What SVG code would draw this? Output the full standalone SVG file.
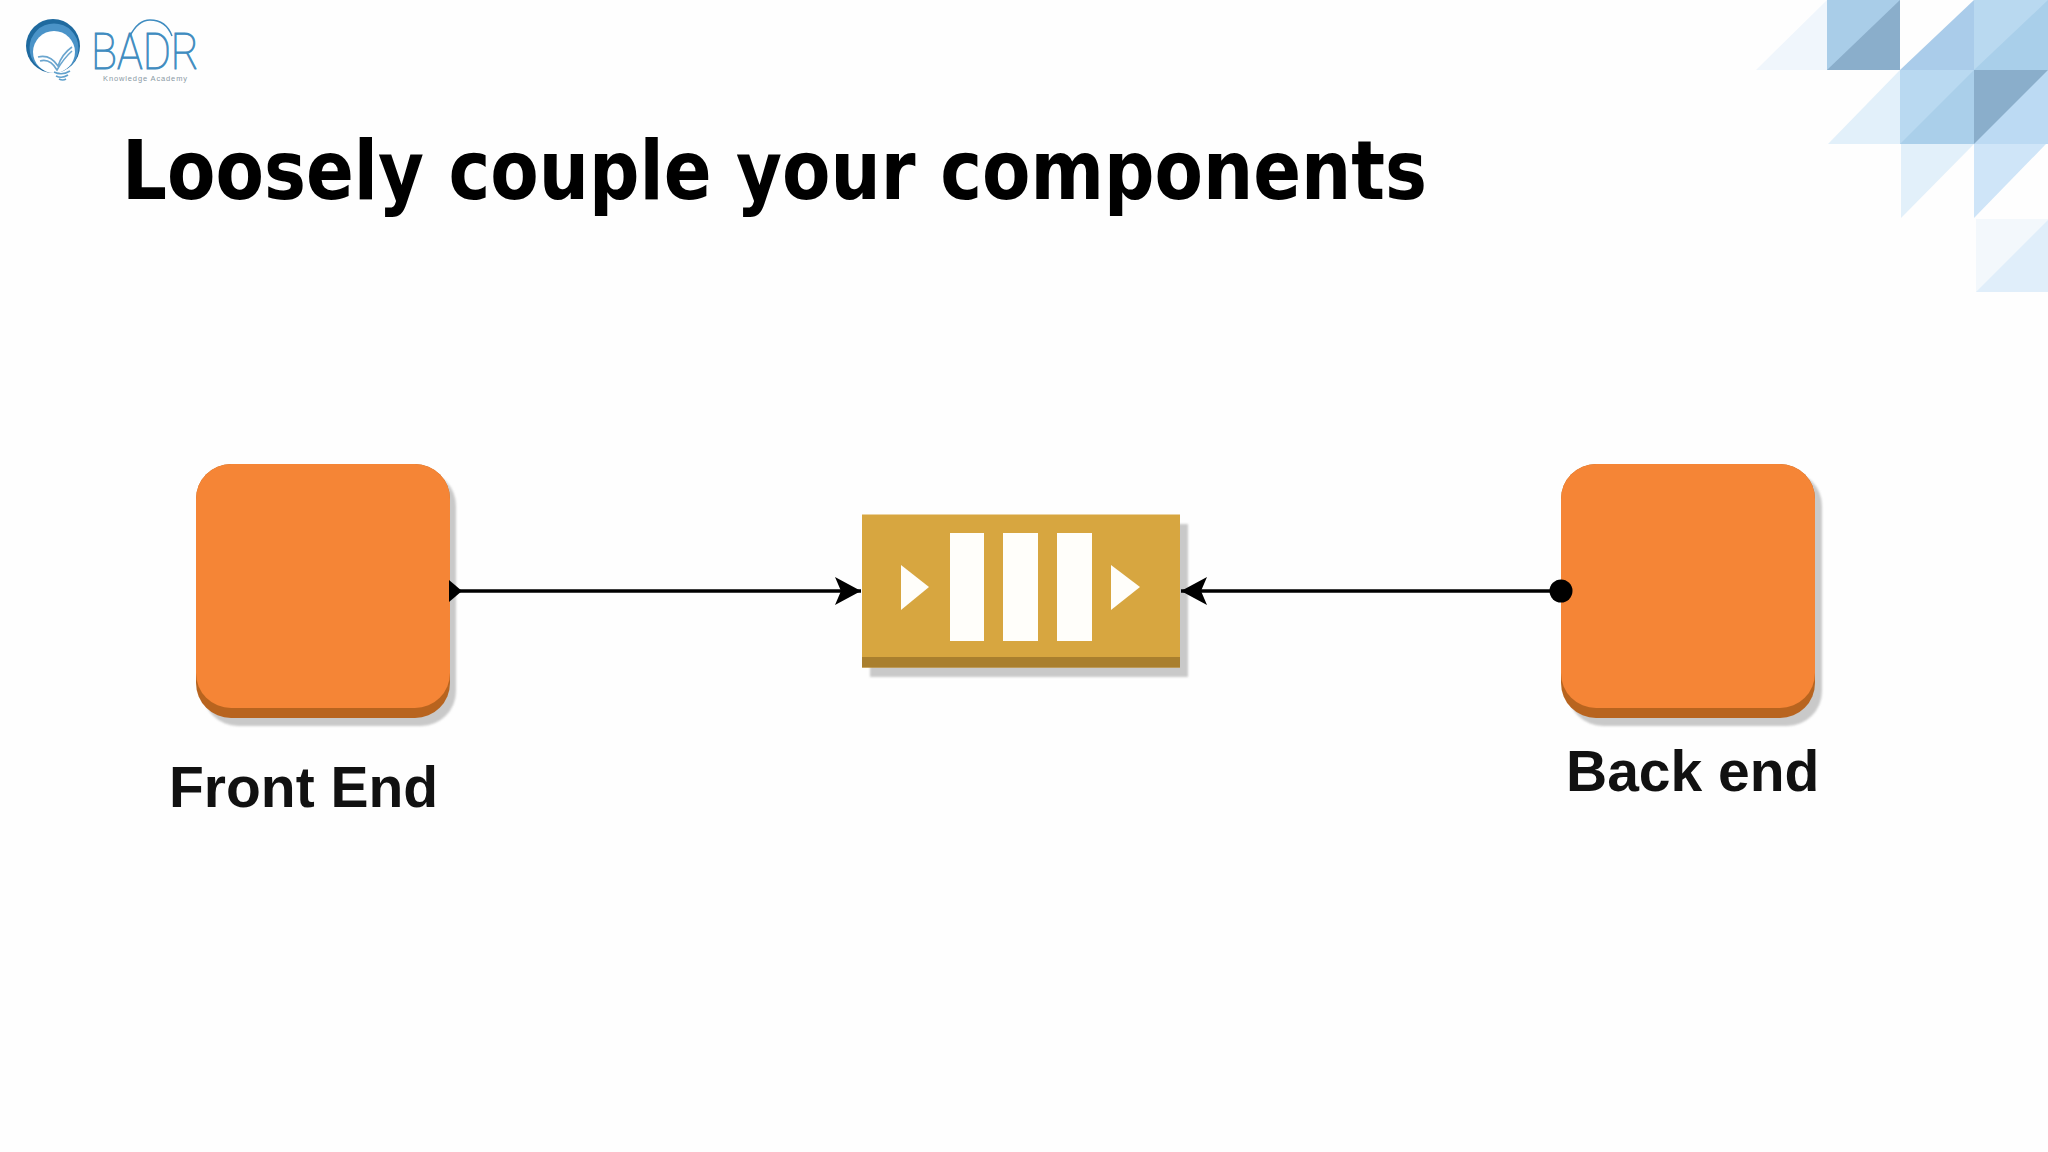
<svg xmlns="http://www.w3.org/2000/svg" width="2048" height="1152" viewBox="0 0 2048 1152">
<style>
.lbl{font-family:"Liberation Sans",Arial,sans-serif;font-weight:700;font-size:57px;fill:#111}
.title{font-family:"DejaVu Sans",Verdana,sans-serif;font-weight:700;font-size:82px;fill:#000}
.conn{stroke:#000;stroke-width:3.5;fill:none}
.white{fill:#fffefa}
.orange{fill:#f58536}
.orangeD{fill:#b8641f}
.shadow{fill:#c9c9c9;filter:url(#soft)}
</style>
<defs>
<filter id="soft" x="-5%" y="-5%" width="110%" height="110%"><feGaussianBlur stdDeviation="1.2"/></filter>
<marker id="arrow" viewBox="0 0 26 28" refX="26" refY="14" markerWidth="26" markerHeight="28" markerUnits="userSpaceOnUse" orient="auto"><path d="M0 0 L26 14 L0 28 L6 14 Z" fill="#000"/></marker>
</defs>
<rect width="2048" height="1152" fill="#fefefe"/>
<g id="corner-decoration">
<polygon points="1756,70 1827,0 1827,70" fill="#f0f6fc"/>
<rect x="1827" y="0" width="73" height="70" fill="#a9cde8"/>
<polygon points="1827,70 1900,0 1900,70" fill="#8aaecb"/>
<polygon points="1900,70 1974,0 1974,70" fill="#aaccea"/>
<rect x="1974" y="0" width="74" height="70" fill="#b9d9f0"/>
<polygon points="1974,70 2048,0 2048,70" fill="#a9cfea"/>
<polygon points="1828,144 1900,70 1900,144" fill="#e2f0fa"/>
<rect x="1900" y="70" width="74" height="74" fill="#b9d9f1"/>
<polygon points="1900,144 1974,70 1974,144" fill="#aacfea"/>
<rect x="1974" y="70" width="74" height="74" fill="#bcdaf3"/>
<polygon points="1974,144 1974,70 2048,70" fill="#8aaecb"/>
<polygon points="1901,144 1974,144 1901,218" fill="#e2f0fa"/>
<polygon points="1974,144 2046,144 1974,218" fill="#cfe5f8"/>
<polygon points="1976,292 1976,219 2048,219 2048,292" fill="#f3f8fc"/>
<polygon points="1976,292 2048,220 2048,292" fill="#e0eefa"/>
</g>
<g id="logo">
<circle cx="53" cy="46" r="27" fill="#1f6a9f"/>
<circle cx="54" cy="48" r="24.5" fill="#4a93c8"/>
<circle cx="54" cy="52" r="21" fill="#fff"/>
<path d="M38 57 Q50 54 58 66 Q62 54 72 47 M40 61 Q50 58 57 70 Q64 58 72 51" fill="none" stroke="#6ba6cf" stroke-width="1.6"/>
<path d="M54 72 Q62 76 70 71 M56 76 Q62 79 68 75 M59 79 Q63 81 66 79" fill="none" stroke="#5fa0cc" stroke-width="1.6"/>
<text x="91" y="69" font-family="Roboto,'Liberation Sans',sans-serif" font-weight="100" font-size="50" fill="#3f8cc0" stroke="#3f8cc0" stroke-width="1" textLength="108" lengthAdjust="spacingAndGlyphs">BADR</text>
<path d="M130 36 Q138 20 150 20 Q166 20 172 36" fill="none" stroke="#3f8cc0" stroke-width="1.5"/>
<text x="103" y="81" font-family="'Liberation Sans',sans-serif" font-size="7.5" fill="#8a9aa5" textLength="84">Knowledge Academy</text>
</g>
<text id="title" class="title" x="122" y="199" textLength="1305" lengthAdjust="spacingAndGlyphs">Loosely couple your components</text>
<g id="front-end">
<rect class="shadow" x="203" y="471" width="253" height="255" rx="35"/>
<rect class="orangeD" x="196" y="464" width="254" height="254" rx="35"/>
<rect class="orange" x="196" y="464" width="254" height="244" rx="35"/>
<text class="lbl" x="169" y="807">Front End</text>
</g>
<g id="queue">
<rect class="shadow" x="870" y="524" width="318" height="153"/>
<rect x="862" y="514.5" width="318" height="153" fill="#d7a640"/>
<rect x="862" y="657" width="318" height="10.5" fill="#a97f2e"/>
<rect class="white" x="950" y="533" width="34" height="108"/>
<rect class="white" x="1003" y="533" width="35" height="108"/>
<rect class="white" x="1057" y="533" width="35" height="108"/>
<polygon class="white" points="901,565 929,587 901,610"/>
<polygon class="white" points="1111,565 1140,587 1111,610"/>
</g>
<g id="back-end">
<rect class="shadow" x="1568" y="471" width="254" height="255" rx="35"/>
<rect class="orangeD" x="1561" y="464" width="254" height="254" rx="35"/>
<rect class="orange" x="1561" y="464" width="254" height="244" rx="35"/>
<text class="lbl" x="1566" y="791">Back end</text>
</g>
<g id="connectors">
<line class="conn" x1="458" y1="591" x2="861" y2="591" marker-end="url(#arrow)"/>
<line class="conn" x1="1561" y1="591" x2="1181" y2="591" marker-end="url(#arrow)"/>
<path d="M449 580 L462 591 L449 602 Z" fill="#000"/>
<circle cx="1561" cy="591" r="11.5" fill="#000"/>
</g>
</svg>
